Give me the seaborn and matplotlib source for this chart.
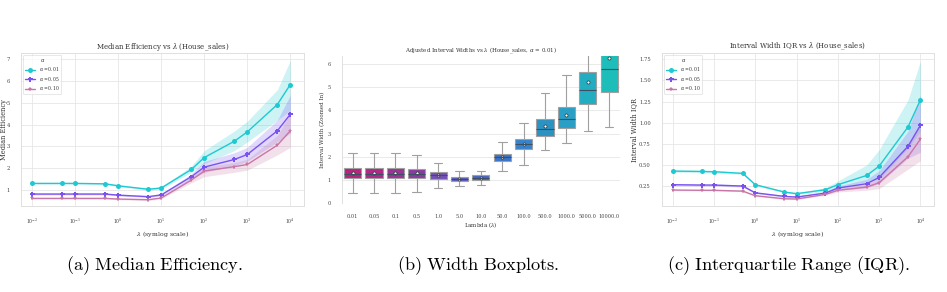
import numpy as np
import pandas as pd
import matplotlib
matplotlib.use('Agg')
import matplotlib.pyplot as plt
import seaborn as sns

# lambda grid
lambdas = [0.01, 0.05, 0.1, 0.5, 1, 5, 10, 50, 100, 500, 1000, 5000, 10000]
lambda_labels = ['0.01', '0.05', '0.1', '0.5', '1.0', '5.0', '10.0', '50.0',
                 '100.0', '500.0', '1000.0', '5000.0', '10000.0']
alphas = ['0.01', '0.05', '0.10']

# median efficiency (line + band)
eff_01 = [1.29, 1.29, 1.29, 1.27, 1.18, 1.02, 1.08, 1.93, 2.48, 3.23, 3.66, 4.92, 5.84]
eff_01_lo = [1.26, 1.26, 1.26, 1.24, 1.14, 0.98, 1.03, 1.80, 2.20, 2.80, 3.20, 4.20, 4.65]
eff_01_hi = [1.32, 1.32, 1.32, 1.30, 1.22, 1.06, 1.13, 2.08, 2.80, 3.70, 4.15, 5.60, 6.95]
eff_05 = [0.80, 0.80, 0.80, 0.80, 0.75, 0.68, 0.76, 1.60, 2.04, 2.39, 2.62, 3.71, 4.47]
eff_05_lo = [0.76, 0.76, 0.76, 0.76, 0.71, 0.64, 0.71, 1.48, 1.80, 2.10, 2.30, 3.20, 3.60]
eff_05_hi = [0.84, 0.84, 0.84, 0.84, 0.79, 0.72, 0.81, 1.73, 2.30, 2.70, 2.95, 4.20, 5.35]
eff_10 = [0.60, 0.60, 0.60, 0.60, 0.57, 0.54, 0.62, 1.44, 1.86, 2.06, 2.16, 3.05, 3.71]
eff_10_lo = [0.57, 0.57, 0.57, 0.57, 0.54, 0.50, 0.58, 1.32, 1.60, 1.80, 1.90, 2.60, 2.95]
eff_10_hi = [0.63, 0.63, 0.63, 0.63, 0.60, 0.58, 0.66, 1.56, 2.05, 2.25, 2.40, 3.50, 4.50]

# interval width IQR (line + band)
iqr_01 = [0.427, 0.423, 0.420, 0.400, 0.266, 0.180, 0.160, 0.207, 0.266, 0.376, 0.486, 0.950, 1.270]
iqr_01_lo = [0.415, 0.411, 0.408, 0.388, 0.255, 0.170, 0.150, 0.185, 0.230, 0.300, 0.330, 0.700, 0.900]
iqr_01_hi = [0.440, 0.436, 0.432, 0.412, 0.277, 0.190, 0.170, 0.230, 0.310, 0.500, 0.680, 1.270, 1.730]
iqr_05 = [0.266, 0.262, 0.262, 0.250, 0.170, 0.128, 0.120, 0.167, 0.226, 0.278, 0.352, 0.720, 0.970]
iqr_05_lo = [0.255, 0.250, 0.250, 0.238, 0.160, 0.118, 0.110, 0.150, 0.200, 0.230, 0.280, 0.580, 0.650]
iqr_05_hi = [0.278, 0.274, 0.274, 0.262, 0.180, 0.138, 0.130, 0.185, 0.250, 0.330, 0.430, 0.900, 1.330]
iqr_10 = [0.203, 0.200, 0.200, 0.190, 0.136, 0.100, 0.097, 0.152, 0.200, 0.238, 0.290, 0.597, 0.805]
iqr_10_lo = [0.195, 0.192, 0.192, 0.182, 0.128, 0.092, 0.089, 0.140, 0.180, 0.200, 0.220, 0.450, 0.550]
iqr_10_hi = [0.211, 0.208, 0.208, 0.198, 0.144, 0.108, 0.105, 0.165, 0.220, 0.270, 0.340, 0.750, 1.000]

# box summaries for alpha = 0.01
whisk_lo = [0.44, 0.44, 0.44, 0.48, 0.66, 0.74, 0.78, 1.38, 1.65, 2.27, 2.58, 3.11, 3.29]
q1 = [1.07, 1.07, 1.07, 1.07, 1.02, 0.93, 1.00, 1.82, 2.33, 2.88, 3.22, 4.28, 4.81]
med = [1.27, 1.27, 1.25, 1.25, 1.19, 1.03, 1.09, 2.00, 2.55, 3.19, 3.62, 4.87, 5.80]
q3 = [1.53, 1.53, 1.53, 1.48, 1.33, 1.13, 1.19, 2.13, 2.76, 3.62, 4.14, 5.67, 6.90]
whisk_hi = [2.16, 2.16, 2.16, 2.07, 1.73, 1.38, 1.40, 2.62, 3.45, 4.77, 5.51, 6.70, 7.60]
means = [1.31, 1.30, 1.30, 1.28, 1.19, 1.03, 1.09, 2.00, 2.56, 3.33, 3.80, 5.24, 6.25]

line_colors = ['#1fc9d1', '#7a52f0', '#c876a6']
line_markers = ['o', 'P', '*']
box_colors = ['#b8237e', '#b02889', '#9c3396', '#8a3ba0', '#7650b8', '#5a59c1', '#4a64c3',
              '#3a73c9', '#3683cc', '#2b92c2', '#299fc6', '#22adc1', '#1dbdba']

sns.set_theme(style='whitegrid')
plt.rcParams['font.family'] = ['DejaVu Serif']
plt.rcParams['mathtext.fontset'] = 'dejavuserif'
plt.rcParams['grid.linewidth'] = 0.6
plt.rcParams['grid.color'] = '#e6e6e6'
plt.rcParams['axes.edgecolor'] = '#e0e0e0'
plt.rcParams['axes.linewidth'] = 0.7
plt.rcParams['text.color'] = '#333333'
plt.rcParams['axes.labelcolor'] = '#333333'
plt.rcParams['xtick.color'] = '#444444'
plt.rcParams['ytick.color'] = '#444444'

fig = plt.figure(figsize=(9.47, 2.92), dpi=100)
ax_a = fig.add_axes([0.0222, 0.2945, 0.299, 0.524])
ax_b = fig.add_axes([0.361, 0.305, 0.2936, 0.503])
ax_c = fig.add_axes([0.699, 0.2945, 0.287, 0.524])


def line_panel(ax, series, title, ylabel, yticks, ylim, yfmt, ylab_x):
    for (vals, lo, hi), a, c, m in zip(series, alphas, line_colors, line_markers):
        ax.fill_between(lambdas, lo, hi, color=c, alpha=0.22, linewidth=0)
        sns.lineplot(x=lambdas, y=vals, color=c, marker=m, markersize=3.6,
                     markeredgewidth=0, linewidth=1.0, label=rf'$\alpha = {a}$', ax=ax)
    ax.set_xscale('symlog', linthresh=1e-3)
    ax.set_xlim(0.0055, 21000)
    ax.set_xticks([0.01, 0.1, 1, 10, 100, 1000, 10000])
    ax.set_xticklabels([r'$10^{-2}$', r'$10^{-1}$', r'$10^{0}$', r'$10^{1}$',
                        r'$10^{2}$', r'$10^{3}$', r'$10^{4}$'])
    ax.minorticks_off()
    ax.set_ylim(*ylim)
    ax.set_yticks(yticks)
    ax.set_yticklabels([yfmt.format(t) for t in yticks])
    ax.tick_params(axis='x', labelsize=3.3, pad=2)
    ax.tick_params(axis='y', labelsize=3.8, pad=2)
    ax.set_title(title, fontsize=5.0, pad=3)
    ax.set_xlabel(r'$\lambda$ (symlog scale)', fontsize=4.5, labelpad=1.5)
    ax.set_ylabel(ylabel, fontsize=4.8)
    ax.yaxis.set_label_coords(ylab_x, 0.5)
    leg = ax.legend(title=r'$\alpha$', loc='upper left', fontsize=3.3, title_fontsize=3.6,
                    frameon=True, borderpad=0.4, labelspacing=0.3, handlelength=2.2)
    leg.get_frame().set_linewidth(0.4)


line_panel(ax_a,
           [(eff_01, eff_01_lo, eff_01_hi), (eff_05, eff_05_lo, eff_05_hi),
            (eff_10, eff_10_lo, eff_10_hi)],
           r'Median Efficiency vs $\lambda$ (House_sales)', 'Median Efficiency',
           [1, 2, 3, 4, 5, 6, 7], (0.25, 7.29), '{:d}', -0.045)

line_panel(ax_c,
           [(iqr_01, iqr_01_lo, iqr_01_hi), (iqr_05, iqr_05_lo, iqr_05_hi),
            (iqr_10, iqr_10_lo, iqr_10_hi)],
           r'Interval Width IQR vs $\lambda$ (House_sales)', 'Interval Width IQR',
           [0.25, 0.5, 0.75, 1.0, 1.25, 1.5, 1.75], (0.014, 1.825), '{:.2f}', -0.088)

# boxplot panel: five summary values per lambda give the drawn quartiles / whiskers
rows = []
for lab, a, b, c, d, e in zip(lambda_labels, whisk_lo, q1, med, q3, whisk_hi):
    for v in (a, b, c, d, e):
        rows.append({'lam': lab, 'width': v})
box_df = pd.DataFrame(rows)

sns.boxplot(data=box_df, x='lam', y='width', hue='lam', order=lambda_labels,
            hue_order=lambda_labels, palette=box_colors, legend=False,
            whis=(0, 100), showfliers=False, width=0.8, saturation=1,
            linecolor='#a0a0a0', linewidth=0.8,
            medianprops={'color': '#3d4f63', 'linewidth': 0.8}, ax=ax_b)
sns.pointplot(x=lambda_labels, y=means, order=lambda_labels, linestyle='none',
              marker='o', color='white', markersize=2.2, markeredgecolor='#333333',
              markeredgewidth=0.5, errorbar=None, ax=ax_b)
ax_b.set_ylim(0, 6.35)
ax_b.set_yticks([0, 1, 2, 3, 4, 5, 6])
ax_b.tick_params(axis='x', labelsize=3.6, pad=2)
ax_b.tick_params(axis='y', labelsize=3.6, pad=2)
ax_b.set_title(r'Adjusted Interval Widths vs $\lambda$ (House_sales, $\alpha$ = 0.01)',
               fontsize=4.0, pad=3)
ax_b.set_xlabel(r'Lambda ($\lambda$)', fontsize=4.0, labelpad=1)
ax_b.set_ylabel('Interval Width (Zoomed In)', fontsize=4.0, labelpad=2)
sns.despine(ax=ax_b, top=True, right=True, bottom=True)

# subfigure captions
captions = [r'$\mathrm{(a)\ Median\ Efficiency.}$',
            r'$\mathrm{(b)\ Width\ Boxplots.}$',
            r'$\mathrm{(c)\ Interquartile\ Range\ (IQR).}$']
for x, cap in zip([0.163, 0.505, 0.833], captions):
    fig.text(x, 0.089, cap, ha='center', va='center', fontsize=13.2,
             math_fontfamily='cm', color='black')

fig.savefig('out.png', dpi=100, facecolor='white')
